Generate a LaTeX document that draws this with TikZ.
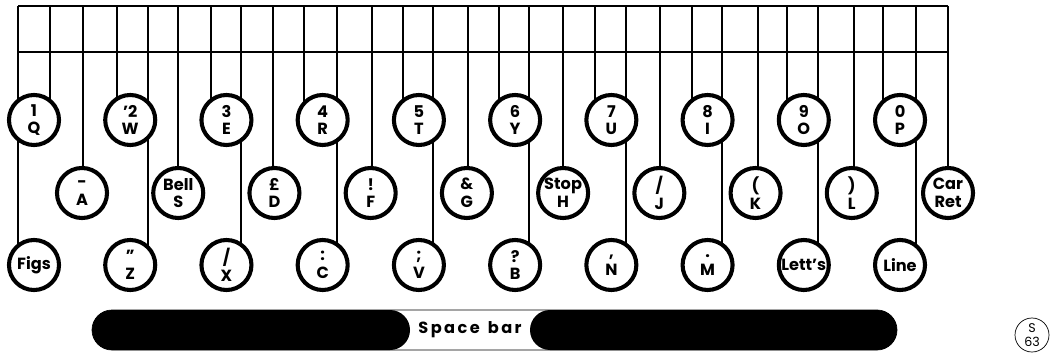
\documentclass[tikz,border=0pt]{standalone}
\usepackage{fontspec}
\setmainfont{Poppins}
\usepackage{tikz}
\usetikzlibrary{positioning,backgrounds}

\begin{document}
\begin{tikzpicture}[x=0.025cm,y=-0.025cm,node distance=1.155cm]
  \tikzstyle{key}=[draw=black,line width=2.9pt,circle,fill=white,minimum size=1.25cm,inner sep=0pt,outer sep=0pt,align=center,font=\bfseries\fontsize{11.5}{12.5}\selectfont]
  \tikzstyle{wire}=[draw=black,line width=1pt]
  \useasboundingbox (0,0) rectangle (1050,354);
  % top row
  \node[key] (kQ) at (34,120) {1\\Q};
  \node[key,right=of kQ] (kW) {'2\\W};
  \node[key,right=of kW] (kE) {3\\E};
  \node[key,right=of kE] (kR) {4\\R};
  \node[key,right=of kR] (kT) {5\\T};
  \node[key,right=of kT] (kY) {6\\Y};
  \node[key,right=of kY] (kU) {7\\U};
  \node[key,right=of kU] (kI) {8\\I};
  \node[key,right=of kI] (kO) {9\\O};
  \node[key,right=of kO] (kP) {0\\P};
  % middle row
  \node[key] (kA) at (82,193) {-\\A};
  \node[key,right=of kA] (kS) {Bell\\S};
  \node[key,right=of kS] (kD) {£\\D};
  \node[key,right=of kD] (kF) {!\\F};
  \node[key,right=of kF] (kG) {\&\\G};
  \node[key,right=of kG] (kH) {Stop\\H};
  \node[key,right=of kH] (kJ) {/\\J};
  \node[key,right=of kJ] (kK) {(\\K};
  \node[key,right=of kK] (kL) {)\\L};
  \node[key,right=of kL] (kCR) {Car\\Ret};
  % bottom row
  \node[key] (kFigs) at (34,265) {Figs};
  \node[key,right=of kFigs] (kZ) {''\\Z};
  \node[key,right=of kZ] (kX) {/\\X};
  \node[key,right=of kX] (kC) {:\\C};
  \node[key,right=of kC] (kV) {;\\V};
  \node[key,right=of kV] (kB) {?\\B};
  \node[key,right=of kB] (kN) {,\\N};
  \node[key,right=of kN] (kM) {.\\M};
  \node[key,right=of kM] (kLett) {Lett's};
  \node[key,right=of kLett] (kLine) {Line};
  % top ends of the levers
  \coordinate (tFigs) at (18,6); \coordinate (tQ) at (50,6); \coordinate (tA) at (83,6);
  \coordinate (tW) at (117,6); \coordinate (tZ) at (148,6); \coordinate (tS) at (178,6);
  \coordinate (tE) at (211,6); \coordinate (tX) at (241,6); \coordinate (tD) at (273,6);
  \coordinate (tR) at (304,6); \coordinate (tC) at (337,6); \coordinate (tF) at (372,6);
  \coordinate (tT) at (403,6); \coordinate (tV) at (433,6); \coordinate (tG) at (468,6);
  \coordinate (tY) at (499,6); \coordinate (tB) at (529,6); \coordinate (tH) at (563,6);
  \coordinate (tU) at (595,6); \coordinate (tN) at (626,6); \coordinate (tJ) at (660,6);
  \coordinate (tI) at (692,6); \coordinate (tM) at (722,6); \coordinate (tK) at (758,6);
  \coordinate (tO) at (787,6); \coordinate (tLett) at (818,6); \coordinate (tL) at (854,6);
  \coordinate (tP) at (883,6); \coordinate (tLine) at (916,6); \coordinate (tCR) at (948,6);
  \coordinate (gL) at (18,52); \coordinate (gR) at (948,52);
  \begin{scope}[on background layer]
    \draw[wire] (tFigs) -- (tCR) (gL) -- (gR);
    \draw[wire] (tFigs) -- (tFigs |- kFigs) (tQ) -- (tQ |- kQ) (tA) -- (tA |- kA)
      (tW) -- (tW |- kW) (tZ) -- (tZ |- kZ) (tS) -- (tS |- kS)
      (tE) -- (tE |- kE) (tX) -- (tX |- kX) (tD) -- (tD |- kD)
      (tR) -- (tR |- kR) (tC) -- (tC |- kC) (tF) -- (tF |- kF)
      (tT) -- (tT |- kT) (tV) -- (tV |- kV) (tG) -- (tG |- kG)
      (tY) -- (tY |- kY) (tB) -- (tB |- kB) (tH) -- (tH |- kH)
      (tU) -- (tU |- kU) (tN) -- (tN |- kN) (tJ) -- (tJ |- kJ)
      (tI) -- (tI |- kI) (tM) -- (tM |- kM) (tK) -- (tK |- kK)
      (tO) -- (tO |- kO) (tLett) -- (tLett |- kLett) (tL) -- (tL |- kL)
      (tP) -- (tP |- kP) (tLine) -- (tLine |- kLine) (tCR) -- (tCR |- kCR);
  \end{scope}
  % space bar
  \draw[line width=0.5pt,rounded corners=0.5cm] (92,310) rectangle (897,350);
  \fill[rounded corners=0.5cm] (92,310) rectangle (410,350);
  \fill[rounded corners=0.5cm] (530,310) rectangle (897,350);
  \node[font=\bfseries\fontsize{11.5}{12}\selectfont\addfontfeature{LetterSpace=15}] (space) at (470,330) {Space\hspace{0.5em}bar};
  \node[draw,circle,line width=0.5pt,minimum size=0.85cm,inner sep=0pt,align=center,font=\fontsize{9}{9.5}\selectfont] (sheet) at (1032,335) {S\\63};
\end{tikzpicture}
\end{document}
